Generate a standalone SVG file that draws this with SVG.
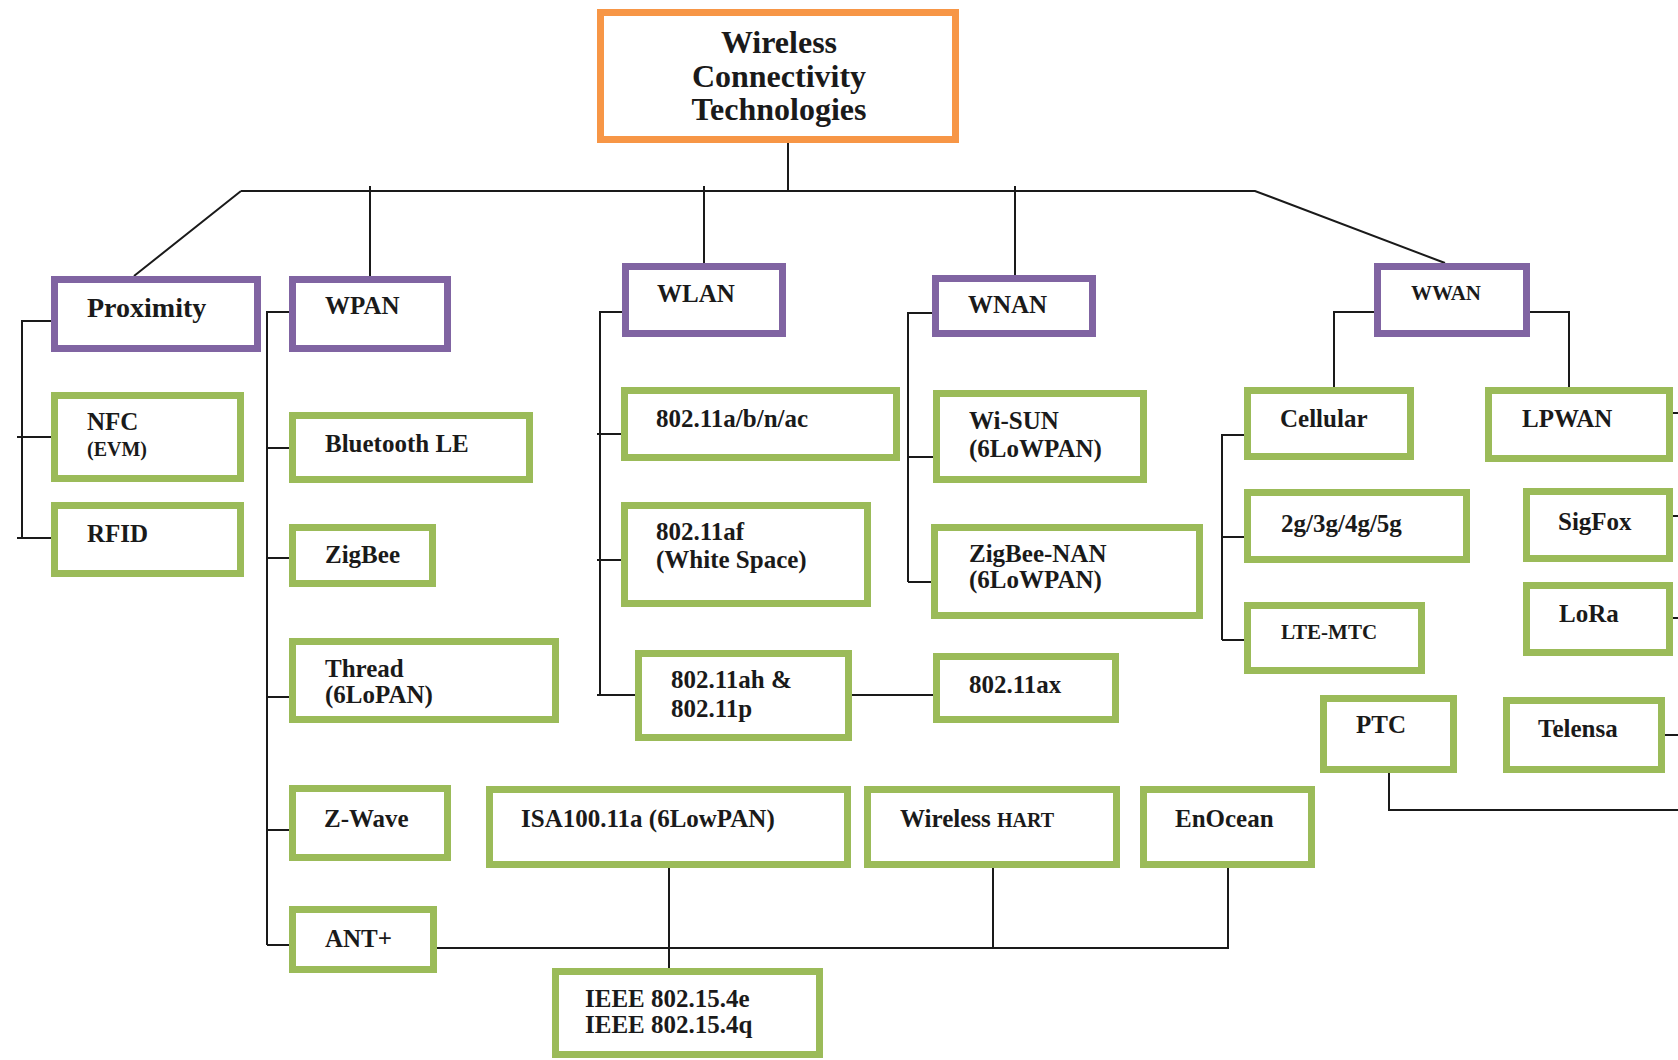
<svg xmlns="http://www.w3.org/2000/svg" width="1678" height="1060" viewBox="0 0 1678 1060">
<style>
.o{fill:#fff;stroke:#F79646;stroke-width:7}
.p{fill:#fff;stroke:#8064A2;stroke-width:7}
.g{fill:#fff;stroke:#9BBB59;stroke-width:7}
text{font-family:"Liberation Serif","Times New Roman",serif;font-weight:bold;fill:#1a1a1a;font-size:25px}
.c{fill:none;stroke:#1a1a1a;stroke-width:2}
.sm{font-size:20px}
</style>
<rect width="1678" height="1060" fill="#fff"/>
<g id="connectors" class="c">
<path d="M788,143 V191 M241,191 H1255 L1445,263 M241,191 L134,276 M370,186 V276 M704,186 V264 M1015,186 V276"/>
<path d="M54,321 H22 V538 M17,437 H52 M17,538 H52"/>
<path d="M292,312 H267 V945 M267,448 H290 M267,558 H290 M267,697 H290 M267,830 H290 M267,945 H290"/>
<path d="M627,312 H600 V695 M597,434 H622 M597,560 H622 M597,695 H636"/>
<path d="M935,313 H908 V582 M908,457 H934 M908,582 H932"/>
<path d="M852,695 H934"/>
<path d="M1378,312 H1334 V388 M1526,312 H1569 V388"/>
<path d="M1249,435 H1222 V640 M1222,537 H1245 M1222,640 H1245"/>
<path d="M1673,413 H1678 M1673,516 H1678 M1673,618 H1678 M1665,735 H1678"/>
<path d="M1389,773 V810 H1678"/>
<path d="M437,948 H1228 V868 M993,948 V868 M669,868 V968"/>
</g>
<g id="root"><rect class="o" x="600.5" y="12.5" width="355" height="127"/>
<text x="779" y="53" text-anchor="middle" style="font-size:32px">Wireless</text>
<text x="779" y="87" text-anchor="middle" style="font-size:32px">Connectivity</text>
<text x="779" y="120" text-anchor="middle" style="font-size:32px">Technologies</text></g>
<g id="proximity"><rect class="p" x="54.5" y="279.5" width="203" height="69"/><text x="87" y="317" style="font-size:28px">Proximity</text></g>
<g id="wpan"><rect class="p" x="292.5" y="279.5" width="155" height="69"/><text x="325" y="314">WPAN</text></g>
<g id="wlan"><rect class="p" x="625.5" y="266.5" width="157" height="67"/><text x="657" y="302">WLAN</text></g>
<g id="wnan"><rect class="p" x="935.5" y="278.5" width="157" height="55"/><text x="968" y="313">WNAN</text></g>
<g id="wwan"><rect class="p" x="1377.5" y="266.5" width="149" height="67"/><text x="1411" y="300" style="font-size:21px">WWAN</text></g>
<g id="nfc"><rect class="g" x="54.5" y="395.5" width="186" height="83"/><text x="87" y="430">NFC</text><text x="87" y="456" class="sm">(EVM)</text></g>
<g id="rfid"><rect class="g" x="54.5" y="505.5" width="186" height="68"/><text x="87" y="542">RFID</text></g>
<g id="bluetooth"><rect class="g" x="292.5" y="415.5" width="237" height="64"/><text x="325" y="452">Bluetooth LE</text></g>
<g id="zigbee"><rect class="g" x="292.5" y="527.5" width="140" height="56"/><text x="325" y="563">ZigBee</text></g>
<g id="thread"><rect class="g" x="292.5" y="641.5" width="263" height="78"/><text x="325" y="677">Thread</text><text x="325" y="703">(6LoPAN)</text></g>
<g id="zwave"><rect class="g" x="292.5" y="788.5" width="155" height="69"/><text x="324" y="827">Z-Wave</text></g>
<g id="antplus"><rect class="g" x="292.5" y="909.5" width="141" height="60"/><text x="325" y="947">ANT+</text></g>
<g id="isa"><rect class="g" x="489.5" y="789.5" width="358" height="75"/><text x="521" y="827">ISA100.11a (6LowPAN)</text></g>
<g id="whart"><rect class="g" x="867.5" y="789.5" width="249" height="75"/><text x="900" y="827">Wireless <tspan style="font-size:20px">HART</tspan></text></g>
<g id="enocean"><rect class="g" x="1143.5" y="789.5" width="168" height="75"/><text x="1175" y="827">EnOcean</text></g>
<g id="ieee"><rect class="g" x="555.5" y="971.5" width="264" height="83"/><text x="585" y="1007">IEEE 802.15.4e</text><text x="585" y="1033">IEEE 802.15.4q</text></g>
<g id="w80211abn"><rect class="g" x="624.5" y="390.5" width="272" height="67"/><text x="656" y="427">802.11a/b/n/ac</text></g>
<g id="w80211af"><rect class="g" x="624.5" y="505.5" width="243" height="98"/><text x="656" y="540">802.11af</text><text x="656" y="568">(White Space)</text></g>
<g id="w80211ah"><rect class="g" x="638.5" y="653.5" width="210" height="84"/><text x="671" y="688">802.11ah &amp;</text><text x="671" y="717">802.11p</text></g>
<g id="w80211ax"><rect class="g" x="936.5" y="656.5" width="179" height="63"/><text x="969" y="693">802.11ax</text></g>
<g id="wisun"><rect class="g" x="936.5" y="393.5" width="207" height="86"/><text x="969" y="429">Wi-SUN</text><text x="969" y="457">(6LoWPAN)</text></g>
<g id="zigbeenan"><rect class="g" x="934.5" y="527.5" width="265" height="88"/><text x="969" y="562">ZigBee-NAN</text><text x="969" y="588">(6LoWPAN)</text></g>
<g id="cellular"><rect class="g" x="1247.5" y="390.5" width="163" height="66"/><text x="1280" y="427">Cellular</text></g>
<g id="g2345"><rect class="g" x="1247.5" y="492.5" width="219" height="67"/><text x="1281" y="532">2g/3g/4g/5g</text></g>
<g id="ltemtc"><rect class="g" x="1247.5" y="605.5" width="174" height="65"/><text x="1281" y="639" style="font-size:21px">LTE-MTC</text></g>
<g id="lpwan"><rect class="g" x="1488.5" y="390.5" width="181" height="68"/><text x="1522" y="427">LPWAN</text></g>
<g id="sigfox"><rect class="g" x="1526.5" y="491.5" width="143" height="67"/><text x="1558" y="530">SigFox</text></g>
<g id="lora"><rect class="g" x="1526.5" y="585.5" width="143" height="67"/><text x="1559" y="622">LoRa</text></g>
<g id="telensa"><rect class="g" x="1506.5" y="700.5" width="155" height="69"/><text x="1538" y="737">Telensa</text></g>
<g id="ptc"><rect class="g" x="1323.5" y="698.5" width="130" height="71"/><text x="1356" y="733">PTC</text></g>
</svg>
